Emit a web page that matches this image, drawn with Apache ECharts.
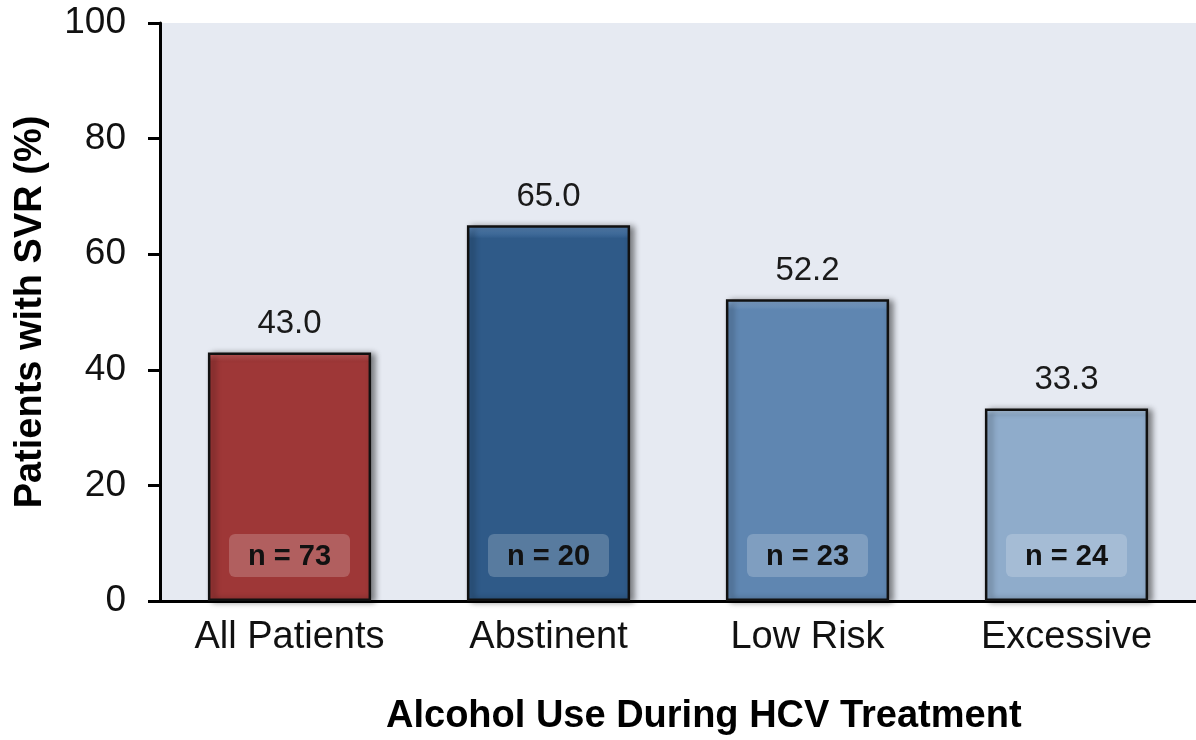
<!DOCTYPE html>
<html>
<head>
<meta charset="utf-8">
<script src="https://cdn.jsdelivr.net/npm/echarts@6/dist/echarts.min.js"></script>
<style>
html,body{margin:0;padding:0;background:#fff;}
#show{width:1196px;height:740px;}
</style>
</head>
<body>
<div id="show"></div>
<script>
var categories = ['All Patients', 'Abstinent', 'Low Risk', 'Excessive'];
var svrValues = [43.0, 65.0, 52.2, 33.3];
var nLabels = ['n = 73', 'n = 20', 'n = 23', 'n = 24'];
var yTicks = [0, 20, 40, 60, 80, 100];

var barColors = ['#9E3737', '#2F5A88', '#5F86B1', '#8FACCB'];
var topColors = ['#D46666', '#5F8DC0', '#8FB3DB', '#C0D8F0'];
var font = 'Liberation Sans, Arial, sans-serif';

var myChart = echarts.init(document.getElementById('show'));

var barData = [];
for (var i = 0; i < svrValues.length; i++) {
    barData.push({
        value: svrValues[i],
        itemStyle: {
            color: new echarts.graphic.LinearGradient(0, 0, 0, 1, [
                {offset: 0, color: topColors[i]},
                {offset: 0.035, color: barColors[i]},
                {offset: 1, color: barColors[i]}
            ])
        }
    });
}

var option = {
    animation: false,
    grid: {
        left: 160, right: 0, top: 23, bottom: 139,
        outerBoundsMode: 'none',
        containLabel: false,
        show: true, backgroundColor: '#E6EAF2', borderWidth: 0
    },
    xAxis: {
        type: 'category',
        data: categories,
        axisLine: {lineStyle: {color: '#000', width: 3}},
        axisTick: {length: 10, lineStyle: {color: '#000', width: 3}},
        axisLabel: {color: '#111', fontSize: 38, margin: 18, fontFamily: font}
    },
    yAxis: {
        type: 'value',
        min: yTicks[0], max: yTicks[yTicks.length - 1], interval: 20,
        name: 'Patients with SVR (%)',
        nameLocation: 'middle',
        nameGap: 110,
        nameTextStyle: {color: '#000', fontSize: 38, fontWeight: 'bold', fontFamily: font},
        axisLine: {show: true, lineStyle: {color: '#000', width: 3}},
        axisTick: {show: true, length: 12, lineStyle: {color: '#000', width: 3}},
        splitLine: {show: false},
        axisLabel: {color: '#111', fontSize: 37, margin: 34, fontFamily: font}
    },
    graphic: [{
        type: 'text',
        left: 386, top: 698,
        style: {
            text: 'Alcohol Use During HCV Treatment',
            fill: '#000', fontSize: 38, fontWeight: 'bold', fontFamily: font
        }
    }],
    series: [
        {
            name: 'SVR',
            type: 'bar',
            barWidth: '63%',
            data: barData,
            itemStyle: {
                borderColor: '#111', borderWidth: 2.5,
                shadowColor: 'rgba(0,0,0,0.45)', shadowBlur: 6,
                shadowOffsetX: 4, shadowOffsetY: 1
            },
            label: {
                show: true, position: 'top', distance: 12,
                color: '#1a1a1a', fontSize: 33, fontFamily: font,
                formatter: function (p) { return p.value.toFixed(1); }
            },
            z: 2
        },
        {
            name: 'n',
            type: 'bar',
            barWidth: '63%',
            barGap: '-100%',
            data: svrValues,
            itemStyle: {color: 'transparent'},
            label: {
                show: true, position: 'insideBottom', distance: 24,
                color: '#111', fontSize: 29, fontWeight: 'bold', fontFamily: font,
                backgroundColor: 'rgba(255,255,255,0.2)',
                borderRadius: 6,
                padding: [8, 19, 6, 19],
                formatter: function (p) { return nLabels[p.dataIndex]; }
            },
            silent: true,
            z: 3
        }
    ]
};
myChart.setOption(option);
</script>
</body>
</html>
